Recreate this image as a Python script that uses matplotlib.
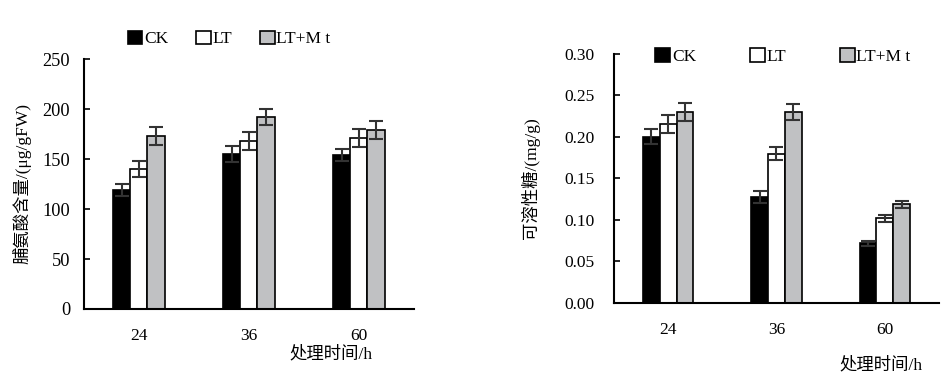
import matplotlib
matplotlib.use("Agg")
import matplotlib.pyplot as plt
import numpy as np

plt.rcParams['font.family'] = ['Liberation Serif', 'Noto Sans CJK SC']
plt.rcParams['font.size'] = 12.5

# 数据
hours = ['24', '36', '60']
series = ['CK', 'LT', 'LT+Mt']
legend_labels = ['CK', 'LT', 'LT+M t']
colors = ['#000000', '#ffffff', '#c0c1c3']

proline = [[119, 155, 154], [140, 168, 171], [173, 192, 179]]
proline_err = [[6, 8, 6], [8, 9, 9], [9, 8, 9]]

sugar = [[0.200, 0.128, 0.072], [0.216, 0.180, 0.102], [0.230, 0.230, 0.119]]
sugar_err = [[0.009, 0.007, 0.003], [0.011, 0.008, 0.004], [0.011, 0.010, 0.004]]

fig = plt.figure(figsize=(9.52, 3.82), dpi=100)
ax1 = fig.add_axes([0.0882, 0.1911, 0.3466, 0.6544])
ax2 = fig.add_axes([0.645, 0.2068, 0.3413, 0.652])

w = 0.155
x = np.arange(len(hours))


def draw(ax, vals, errs, ypad):
    for i in range(3):
        ax.bar(x + (i - 1) * w, vals[i], w, color=colors[i], edgecolor='black',
               linewidth=1.2, label=legend_labels[i], zorder=2)
        ax.errorbar(x + (i - 1) * w, vals[i], yerr=errs[i], fmt='none',
                    ecolor='#333333', elinewidth=1.5, capsize=5, capthick=1.5, zorder=3)
    ax.set_xlim(-0.5, 2.5)
    ax.set_xticks(x)
    ax.set_xticklabels(hours)
    ax.tick_params(axis='x', length=0, pad=14)
    ax.tick_params(axis='y', direction='in', length=4, width=1.2, pad=ypad)
    for s in ['top', 'right']:
        ax.spines[s].set_visible(False)
    for s in ['left', 'bottom']:
        ax.spines[s].set_linewidth(1.5)


draw(ax1, proline, proline_err, 10)
ax1.set_ylim(0, 250)
ax1.set_yticks([0, 50, 100, 150, 200, 250])
ax1.tick_params(axis='y', labelsize=13.2)
ax1.legend(loc='center', bbox_to_anchor=(0.44, 1.08), ncol=3, frameon=False,
           handlelength=0.85, handleheight=0.85, handletextpad=0.1, columnspacing=1.6,
           borderpad=0)

draw(ax2, sugar, sugar_err, 14)
ax2.set_ylim(0, 0.30)
ax2.set_yticks([0, 0.05, 0.10, 0.15, 0.20, 0.25, 0.30])
ax2.set_yticklabels(['0.00', '0.05', '0.10', '0.15', '0.20', '0.25', '0.30'])
ax2.legend(loc='center', bbox_to_anchor=(0.52, 0.99), ncol=3, frameon=False,
           handlelength=0.85, handleheight=0.85, handletextpad=0.1, columnspacing=3.1,
           borderpad=0)

fig.text(22 / 952, 1 - 183 / 382, '脯氨酸含量/(μg/gFW)', rotation=90,
         ha='center', va='center', fontsize=12.5)
fig.text(530 / 952, 1 - 178 / 382, '可溶性糖/(mg/g)', rotation=90,
         ha='center', va='center', fontsize=12.5)
fig.text(331 / 952, 1 - 354 / 382, '处理时间/h', ha='center', va='center', fontsize=12.5)
fig.text(881 / 952, 1 - 365 / 382, '处理时间/h', ha='center', va='center', fontsize=12.5)

fig.savefig('out.png', dpi=100)
